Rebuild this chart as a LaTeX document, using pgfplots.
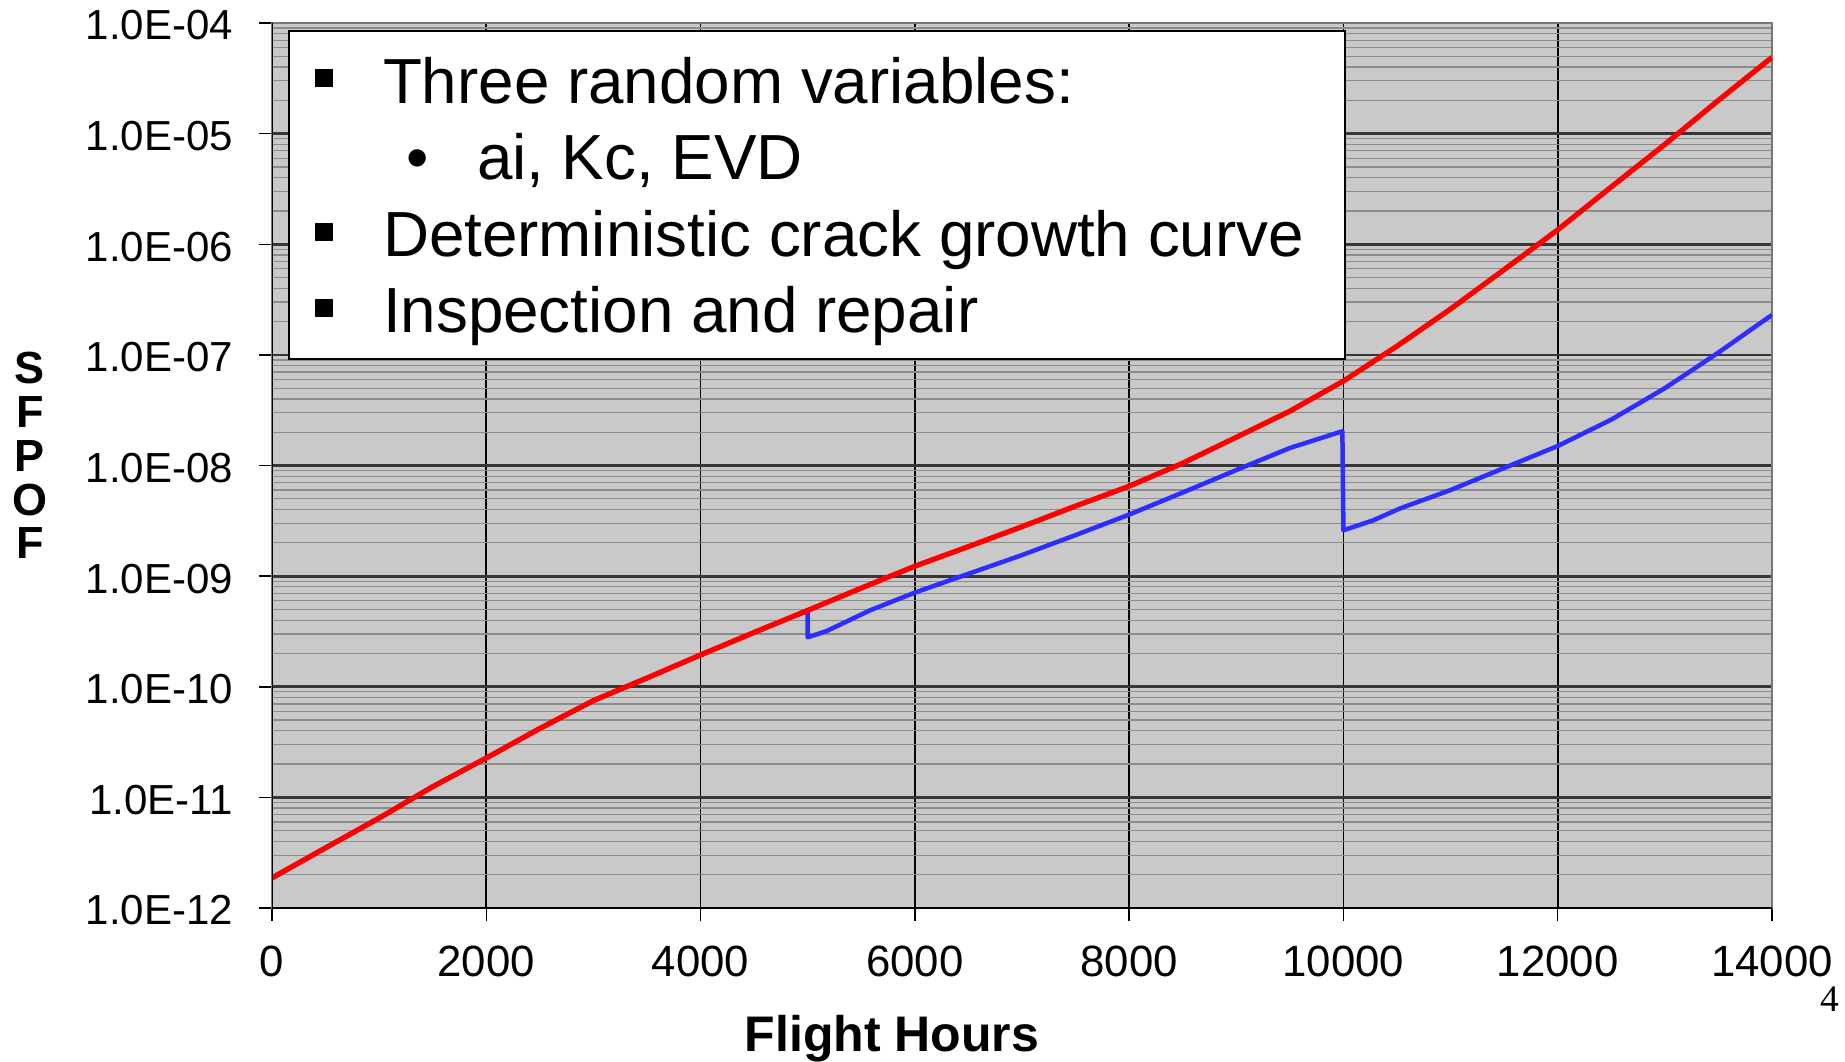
\documentclass[border=0pt]{standalone}
\usepackage{pgfplots}
\pgfplotsset{compat=1.18}
\usepackage{fontspec}
\setmainfont{Liberation Sans}
\newfontfamily\serifnum{Liberation Serif}
\definecolor{plotbg}{RGB}{201,201,201}
\definecolor{majgrid}{RGB}{55,55,55}
\definecolor{mingrid}{RGB}{140,140,140}
\definecolor{sfred}{RGB}{255,0,0}
\definecolor{sfblue}{RGB}{45,45,255}
\definecolor{frame}{RGB}{120,120,120}

\pgfplotstableread{
x y
0 1.87e-12
500 3.5e-12
1000 6.5e-12
1500 1.25e-11
2000 2.27e-11
2500 4.2e-11
3000 7.5e-11
3500 1.2e-10
4000 1.94e-10
4500 3.1e-10
5000 4.9e-10
5500 7.8e-10
6000 1.23e-9
6500 1.85e-9
7000 2.8e-9
7500 4.3e-9
8000 6.5e-9
8500 1.05e-8
9000 1.8e-8
9500 3.1e-8
10000 5.8e-8
10500 1.2e-7
11000 2.6e-7
11500 5.9e-7
12000 1.35e-6
12500 3.3e-6
13000 8.0e-6
13500 2.0e-5
14000 4.9e-5
}\redtable

\pgfplotstableread{
x y
0 1.87e-12
500 3.5e-12
1000 6.5e-12
1500 1.25e-11
2000 2.27e-11
2500 4.2e-11
3000 7.5e-11
3500 1.2e-10
4000 1.94e-10
4500 3.1e-10
5000 4.9e-10
5000 2.8e-10
5180 3.2e-10
5580 4.9e-10
6000 7.1e-10
6500 1.05e-9
7000 1.55e-9
7500 2.35e-9
8000 3.6e-9
8500 5.7e-9
9000 9.1e-9
9500 1.44e-8
9990 2.04e-8
10000 2.6e-9
10280 3.2e-9
10530 4.1e-9
11000 6.0e-9
11500 9.5e-9
12000 1.5e-8
12500 2.6e-8
13000 5.0e-8
13500 1.05e-7
14000 2.3e-7
}\bluetable

\begin{document}
\begin{tikzpicture}
\useasboundingbox (0,0) rectangle (738pt,424.8pt);
\begin{axis}[
  at={(108.8pt,61.6pt)}, anchor=south west,
  scale only axis, width=600pt, height=354pt,
  xmin=0, xmax=14000,
  ymode=log, log basis y=10, ymin=1e-12, ymax=1e-4,
  axis background/.style={fill=plotbg},
  axis line style={draw=frame, line width=0.6pt},
  scaled x ticks=false,
  xtick={0,2000,4000,6000,8000,10000,12000,14000},
  xticklabels={0,2000,4000,6000,8000,10000,12000,14000},
  ytick={1e-12,1e-11,1e-10,1e-9,1e-8,1e-7,1e-6,1e-5,1e-4},
  yticklabels={1.0E-12,1.0E-11,1.0E-10,1.0E-09,1.0E-08,1.0E-07,1.0E-06,1.0E-05,1.0E-04},
  minor ytick={2e-12,3e-12,4e-12,5e-12,6e-12,7e-12,8e-12,9e-12,
    2e-11,3e-11,4e-11,5e-11,6e-11,7e-11,8e-11,9e-11,
    2e-10,3e-10,4e-10,5e-10,6e-10,7e-10,8e-10,9e-10,
    2e-9,3e-9,4e-9,5e-9,6e-9,7e-9,8e-9,9e-9,
    2e-8,3e-8,4e-8,5e-8,6e-8,7e-8,8e-8,9e-8,
    2e-7,3e-7,4e-7,5e-7,6e-7,7e-7,8e-7,9e-7,
    2e-6,3e-6,4e-6,5e-6,6e-6,7e-6,8e-6,9e-6,
    2e-5,3e-5,4e-5,5e-5,6e-5,7e-5,8e-5,9e-5},
  xtick pos=left, ytick pos=left,
  tick align=outside,
  major tick length=5.4pt,
  minor tick length=0pt,
  tick style={black, line width=0.6pt},
  xmajorgrids, ymajorgrids, yminorgrids,
  major grid style={majgrid, line width=1.1pt},
  minor grid style={mingrid, line width=0.5pt},
  x grid style={black, line width=0.7pt},
  yticklabel style={anchor=east, inner sep=0pt, xshift=-10pt, yshift=-1pt, font=\fontsize{16.8}{19}\selectfont},
  xticklabel style={anchor=north, inner sep=0pt, yshift=-9.5pt, font=\fontsize{17.5}{20}\selectfont},
  clip=true,
]
\addplot[sfblue, line width=1.8pt, line join=round] table[x=x,y=y] {\bluetable};
\addplot[sfred, line width=2.1pt, line join=round] table[x=x,y=y] {\redtable};
\draw[black, line width=0.9pt] (rel axis cs:0,1) -- (rel axis cs:0,0) -- (rel axis cs:1,0);
\end{axis}

% text box
\draw[fill=white, draw=black, line width=0.8pt] (115.6pt,281.2pt) rectangle (538pt,412.4pt);
\fill (126pt,389.8pt) rectangle ++(7.2pt,7.2pt);
\fill (126pt,328.4pt) rectangle ++(7.2pt,7.2pt);
\fill (126pt,297.8pt) rectangle ++(7.2pt,7.2pt);
\begin{scope}[every node/.style={anchor=base west, inner sep=0pt, font=\fontsize{25.5}{30}\selectfont}]
\node at (153pt,383.4pt) {Three random variables:};
\node at (162.4pt,352.8pt) {•};
\node at (190.6pt,352.8pt) {ai, Kc, EVD};
\node at (153pt,322.2pt) {Deterministic crack growth curve};
\node at (153pt,291.6pt) {Inspection and repair};
\end{scope}

% axis titles
\node[anchor=base, inner sep=0pt, font=\bfseries\fontsize{20}{24}\selectfont] at (356.8pt,4pt) {Flight Hours};
\node[anchor=north, inner sep=0pt, align=center, font=\bfseries\fontsize{18}{17.5}\selectfont] at (12pt,284pt) {S\\F\\P\\O\\F};
\node[anchor=base, inner sep=0pt, font=\serifnum\fontsize{15}{17}\selectfont] at (731.8pt,20pt) {4};
\end{tikzpicture}
\end{document}
